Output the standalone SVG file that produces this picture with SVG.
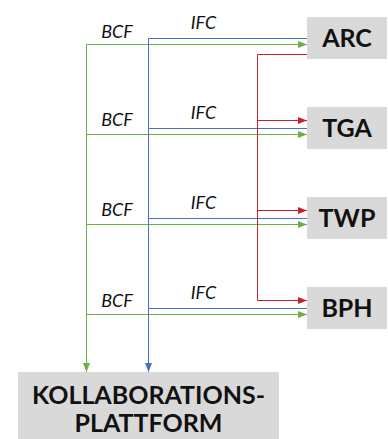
<svg xmlns="http://www.w3.org/2000/svg" width="388" height="439" viewBox="0 0 388 439">
<style>
.box{fill:#D9D9D9}
.bt{font-family:Lato,"DejaVu Sans",sans-serif;font-weight:bold;font-size:25px;fill:#111;text-anchor:middle}
.lb{font-family:Lato,"DejaVu Sans",sans-serif;font-style:italic;font-size:18px;fill:#111;text-anchor:middle}
.g{stroke:#70AD47;stroke-width:1;fill:none}
.b{stroke:#4472C4;stroke-width:1;fill:none}
.r{stroke:#C9202B;stroke-width:1;fill:none}
</style>
<defs>
<marker id="ag" markerUnits="userSpaceOnUse" markerWidth="9" markerHeight="8" refX="9" refY="4" orient="auto"><path d="M0,0.5 L9,4 L0,7.5 z" fill="#70AD47"/></marker>
<marker id="ab" markerUnits="userSpaceOnUse" markerWidth="9" markerHeight="8" refX="9" refY="4" orient="auto"><path d="M0,0.5 L9,4 L0,7.5 z" fill="#4472C4"/></marker>
<marker id="ar" markerUnits="userSpaceOnUse" markerWidth="9" markerHeight="8" refX="9" refY="4" orient="auto"><path d="M0,0.5 L9,4 L0,7.5 z" fill="#C9202B"/></marker>
</defs>
<g id="connectors">
<path class="g" d="M86.5,44.5 V372" marker-end="url(#ag)"/>
<path class="g" d="M86.5,44.5 H307" marker-end="url(#ag)"/>
<path class="g" d="M86.5,134.5 H307" marker-end="url(#ag)"/>
<path class="g" d="M86.5,224.5 H307" marker-end="url(#ag)"/>
<path class="g" d="M86.5,314.5 H307" marker-end="url(#ag)"/>
<path class="b" d="M148.5,38.5 V372" marker-end="url(#ab)"/>
<path class="b" d="M148.5,38.5 H307"/>
<path class="b" d="M148.5,128.5 H307"/>
<path class="b" d="M148.5,218.5 H307"/>
<path class="b" d="M148.5,308.5 H307"/>
<path class="r" d="M307,54.5 H257.5 V300.5 H307" marker-end="url(#ar)"/>
<path class="r" d="M257.5,120.5 H307" marker-end="url(#ar)"/>
<path class="r" d="M257.5,210.5 H307" marker-end="url(#ar)"/>
</g>
<g id="labels">
<text class="lb" x="117" y="38">BCF</text>
<text class="lb" x="203.5" y="29">IFC</text>
<text class="lb" x="117" y="126">BCF</text>
<text class="lb" x="203.5" y="119">IFC</text>
<text class="lb" x="117" y="216">BCF</text>
<text class="lb" x="203.5" y="209">IFC</text>
<text class="lb" x="117" y="306.5">BCF</text>
<text class="lb" x="203.5" y="299">IFC</text>
</g>
<g id="node-arc"><rect class="box" x="307" y="17" width="80" height="42"/><text class="bt" x="347" y="47">ARC</text></g>
<g id="node-tga"><rect class="box" x="307" y="107" width="80" height="42"/><text class="bt" x="347" y="137">TGA</text></g>
<g id="node-twp"><rect class="box" x="307" y="197" width="80" height="42"/><text class="bt" x="347" y="227">TWP</text></g>
<g id="node-bph"><rect class="box" x="307" y="287" width="80" height="42"/><text class="bt" x="347" y="317">BPH</text></g>
<g id="node-platform"><rect class="box" x="18" y="372" width="261" height="67"/><text class="bt" x="148.5" y="404">KOLLABORATIONS-</text><text class="bt" x="148.5" y="432">PLATTFORM</text></g>
</svg>
